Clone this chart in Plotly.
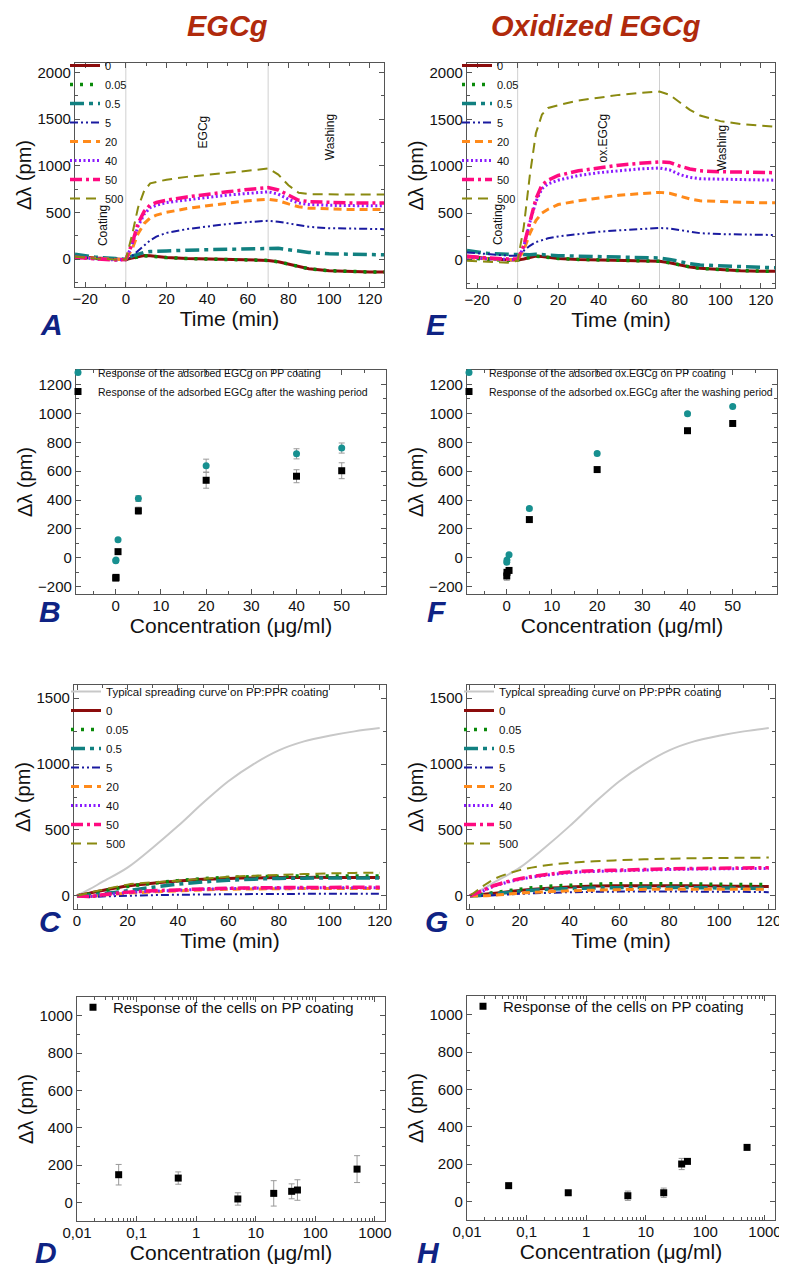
import plotly.graph_objects as go

W, H = 787, 1269
FONT = "Liberation Sans, Arial, sans-serif"

# ---------------- data ----------------
conc_labels = ["0", "0.05", "0.5", "5", "20", "40", "50", "500"]

# Panel A / E : adsorption time courses (min)
t_ads = [-25, -15, -5, 0, 3, 6, 9, 12, 15, 20, 30, 40, 50, 60, 70, 75, 80, 85, 90, 100, 110, 120, 127]

egcg_0    = [30, 10, 0, -5, 10, 25, 38, 35, 25, 15, 5, 0, -5, -10, -15, -30, -55, -85, -105, -125, -135, -140, -140]
egcg_005  = [20, 5, -5, -5, 10, 25, 35, 30, 22, 15, 5, 0, -5, -10, -15, -30, -55, -85, -105, -125, -135, -140, -140]
egcg_05   = [50, 20, 5, -5, 30, 50, 70, 80, 85, 85, 95, 100, 105, 115, 120, 115, 100, 85, 70, 55, 50, 45, 45]
egcg_5    = [20, 5, 0, -5, 30, 90, 150, 200, 240, 280, 320, 350, 375, 395, 410, 400, 380, 360, 345, 330, 325, 320, 320]
egcg_20   = [20, 5, -5, -5, 100, 270, 380, 440, 470, 500, 540, 570, 600, 625, 640, 625, 590, 560, 545, 535, 530, 530, 530]
egcg_40   = [15, 0, -10, -5, 150, 350, 480, 550, 575, 605, 635, 660, 685, 705, 720, 695, 640, 600, 585, 575, 570, 570, 570]
egcg_50   = [20, 0, -10, -5, 160, 380, 510, 580, 605, 630, 665, 695, 720, 745, 765, 740, 680, 630, 615, 605, 600, 600, 600]
egcg_500  = [25, 5, -5, -5, 250, 550, 730, 810, 825, 850, 880, 900, 925, 945, 970, 905, 790, 710, 695, 690, 690, 690, 690]

ox_0    = [40, 15, 0, 0, 10, 25, 40, 35, 25, 15, 5, 0, -5, -10, -15, -30, -55, -75, -90, -105, -115, -120, -120]
ox_005  = [20, 5, -5, 0, 10, 25, 38, 33, 25, 15, 5, 0, -5, -10, -15, -30, -55, -75, -90, -105, -115, -120, -120]
ox_05   = [100, 70, 60, 55, 55, 55, 60, 55, 50, 45, 40, 35, 30, 25, 20, 5, -20, -40, -55, -65, -75, -80, -85]
ox_5    = [80, 60, 45, 45, 100, 150, 190, 210, 230, 250, 275, 300, 315, 330, 340, 335, 320, 300, 285, 275, 270, 265, 265]
ox_20   = [20, 10, 0, 0, 100, 280, 420, 500, 540, 590, 630, 660, 690, 705, 720, 710, 680, 650, 630, 620, 615, 610, 610]
ox_40   = [30, 10, 5, 5, 140, 400, 620, 760, 810, 850, 900, 930, 950, 970, 980, 960, 910, 880, 865, 860, 855, 850, 850]
ox_50   = [40, 20, 10, 10, 150, 420, 650, 800, 850, 900, 950, 980, 1010, 1030, 1045, 1040, 1000, 970, 950, 940, 935, 930, 930]
ox_500  = [-10, -20, -30, -10, 350, 900, 1350, 1550, 1620, 1650, 1700, 1730, 1760, 1780, 1795, 1760, 1680, 1600, 1540, 1480, 1450, 1430, 1420]

# Panel B / F : adsorbed amount vs concentration
conc_ads = [0, 0.05, 0.5, 5, 20, 40, 50]
egcg_pp      = [-20, -15, 125, 410, 638, 720, 760]
egcg_pp_err  = [10, 10, 10, 20, 45, 35, 35]
egcg_wash    = [-140, -135, 43, 326, 537, 565, 603]
egcg_wash_err = [10, 10, 10, 25, 55, 45, 55]
ox_pp        = [-30, -15, 21, 341, 723, 997, 1048]
ox_pp_err    = [8, 8, 8, 10, 10, 10, 8]
ox_wash      = [-125, -100, -87, 265, 611, 880, 930]
ox_wash_err  = [30, 10, 10, 10, 12, 12, 10]

# Panel C / G : cell spreading (min)
t_cell = [0, 5, 10, 20, 30, 40, 50, 60, 70, 80, 90, 100, 110, 120]
typical = [0, 50, 105, 214, 365, 529, 706, 870, 1000, 1104, 1172, 1215, 1248, 1273]

cell_egcg_0   = [0, 20, 40, 75, 95, 112, 125, 132, 136, 139, 140, 140, 140, 140]
cell_egcg_005 = [0, 15, 35, 70, 95, 115, 130, 140, 145, 148, 150, 150, 150, 150]
cell_egcg_05  = [0, 5, 15, 38, 65, 88, 105, 118, 126, 132, 134, 135, 135, 135]
cell_egcg_5   = [0, -10, -5, 0, 5, 8, 10, 12, 13, 14, 15, 15, 15, 15]
cell_egcg_20  = [0, -5, 5, 20, 30, 38, 45, 50, 52, 54, 55, 55, 55, 55]
cell_egcg_40  = [0, -5, 5, 25, 35, 42, 50, 55, 58, 60, 60, 62, 62, 62]
cell_egcg_50  = [0, -5, 8, 28, 38, 45, 52, 57, 60, 62, 63, 64, 65, 65]
cell_egcg_500 = [0, 25, 45, 85, 102, 115, 130, 144, 152, 159, 165, 170, 174, 176]

cell_ox_0   = [0, 10, 20, 40, 55, 67, 74, 76, 77, 77, 76, 74, 72, 70]
cell_ox_005 = [0, 12, 25, 50, 70, 80, 88, 92, 92, 92, 90, 88, 86, 85]
cell_ox_05  = [0, 5, 15, 35, 48, 55, 60, 62, 63, 63, 62, 60, 58, 55]
cell_ox_5   = [0, 0, 5, 15, 22, 27, 30, 32, 33, 33, 32, 31, 30, 28]
cell_ox_20  = [0, 0, 5, 20, 30, 38, 43, 47, 49, 50, 50, 50, 50, 50]
cell_ox_40  = [0, 35, 75, 125, 155, 175, 185, 190, 195, 200, 203, 205, 207, 208]
cell_ox_50  = [0, 40, 80, 130, 160, 180, 190, 195, 200, 205, 208, 210, 212, 214]
cell_ox_500 = [0, 70, 130, 195, 230, 250, 262, 270, 277, 282, 285, 287, 289, 290]

# Panel D / H : cell response vs concentration (log)
conc_cell = [0.05, 0.5, 5, 20, 40, 50, 500]
cell_resp_egcg = [148, 130, 18, 48, 59, 66, 178]
cell_err_egcg  = [55, 33, 33, 68, 40, 55, 72]
cell_resp_ox   = [84, 46, 30, 46, 200, 214, 289]
cell_err_ox    = [8, 8, 25, 25, 30, 12, 8]

log_tick_vals = [0.01, 0.1, 1, 10, 100, 1000]
log_tick_text = ["0,01", "0,1", "1", "10", "100", "1000"]

# ---------------- styles ----------------
STY = {
    "0":    dict(color="#8b0c0c", dash="solid", width=3),
    "0.05": dict(color="#0a8a0a", dash="3px,7px", width=3.5),
    "0.5":  dict(color="#118080", dash="14px,5px,4px,5px", width=3.5),
    "5":    dict(color="#1a1aa0", dash="8px,3px,2px,3px,2px,3px", width=2),
    "20":   dict(color="#ff8a1a", dash="8px,5px", width=3),
    "40":   dict(color="#8a1aff", dash="2px,2.5px", width=3),
    "50":   dict(color="#ff0a80", dash="12px,4px,3px,4px", width=3.5),
    "500":  dict(color="#8a8a10", dash="10px,6px", width=2),
}


def dx(l, r):
    return [l / W, r / W]


def dy(t, b):
    return [1 - b / H, 1 - t / H]


fig = go.Figure()

ads_egcg = [egcg_0, egcg_005, egcg_05, egcg_5, egcg_20, egcg_40, egcg_50, egcg_500]
ads_ox = [ox_0, ox_005, ox_05, ox_5, ox_20, ox_40, ox_50, ox_500]
cell_egcg = [cell_egcg_0, cell_egcg_005, cell_egcg_05, cell_egcg_5, cell_egcg_20, cell_egcg_40, cell_egcg_50, cell_egcg_500]
cell_ox = [cell_ox_0, cell_ox_005, cell_ox_05, cell_ox_5, cell_ox_20, cell_ox_40, cell_ox_50, cell_ox_500]

# A & E
for series, ax, leg in [(ads_egcg, "", "legend"), (ads_ox, "2", "legend2")]:
    for lab, ys in zip(conc_labels, series):
        fig.add_trace(go.Scatter(x=t_ads, y=ys, mode="lines", name=lab, line=STY[lab],
                                 xaxis="x" + ax, yaxis="y" + ax, legend=leg))

# B & F
for (pp, ppe, wa, wae, name), ax, leg in [
        ((egcg_pp, egcg_pp_err, egcg_wash, egcg_wash_err, "EGCg"), "3", "legend3"),
        ((ox_pp, ox_pp_err, ox_wash, ox_wash_err, "ox.EGCg"), "4", "legend4")]:
    fig.add_trace(go.Scatter(x=conc_ads, y=pp, mode="markers",
                             name="Response of the adsorbed %s on PP coating" % name,
                             marker=dict(symbol="circle", size=7, color="#179090"),
                             error_y=dict(type="data", array=ppe, color="#999999", thickness=1, width=3),
                             xaxis="x" + ax, yaxis="y" + ax, legend=leg))
    fig.add_trace(go.Scatter(x=conc_ads, y=wa, mode="markers",
                             name="Response of the adsorbed %s after the washing period" % name,
                             marker=dict(symbol="square", size=7, color="#000000"),
                             error_y=dict(type="data", array=wae, color="#999999", thickness=1, width=3),
                             xaxis="x" + ax, yaxis="y" + ax, legend=leg))

# C & G
for series, ax, leg in [(cell_egcg, "5", "legend5"), (cell_ox, "6", "legend6")]:
    fig.add_trace(go.Scatter(x=t_cell, y=typical, mode="lines", line_shape="spline",
                             name="Typical spreading curve on PP:PPR coating",
                             line=dict(color="#c8c8c8", width=2),
                             xaxis="x" + ax, yaxis="y" + ax, legend=leg))
    for lab, ys in zip(conc_labels, series):
        fig.add_trace(go.Scatter(x=t_cell, y=ys, mode="lines", line_shape="spline", name=lab, line=STY[lab],
                                 xaxis="x" + ax, yaxis="y" + ax, legend=leg))

# D & H
for ys, es, ax, leg in [(cell_resp_egcg, cell_err_egcg, "7", "legend7"), (cell_resp_ox, cell_err_ox, "8", "legend8")]:
    fig.add_trace(go.Scatter(x=conc_cell, y=ys, mode="markers",
                             name="Response of the cells on PP coating",
                             marker=dict(symbol="square", size=7, color="#000000"),
                             error_y=dict(type="data", array=es, color="#999999", thickness=1, width=3),
                             xaxis="x" + ax, yaxis="y" + ax, legend=leg))

# ---------------- axes ----------------
boxes = {
    "":  (67, 376, 55, 279),
    "2": (459, 767, 55, 280),
    "3": (68, 378, 362, 586),
    "4": (459, 769, 362, 586),
    "5": (66, 378, 677, 901),
    "6": (459, 767, 677, 901),
    "7": (69, 377, 989, 1213),
    "8": (459, 767, 988, 1212),
}

common = dict(showline=True, linecolor="#555555", linewidth=1.2, mirror="allticks",
              ticks="inside", ticklen=5, tickcolor="#555555", showgrid=False, zeroline=False,
              tickfont=dict(family=FONT, size=15, color="#111111"), automargin=False)

ytitle = dict(text="\u0394\u03bb (pm)", font=dict(family=FONT, size=20, color="#111111"), standoff=0)
MINC = "#555555"


def xtitle(text):
    return dict(text=text, font=dict(family=FONT, size=21, color="#111111"), standoff=0)


for key, (l, r, t, b) in boxes.items():
    xa = dict(common, domain=dx(l, r), anchor="y" + key, ticklabelstandoff=-2)
    ya = dict(common, domain=dy(t, b), anchor="x" + key, title=ytitle)
    if key in ("", "2"):
        xa.update(range=[-25, 127], dtick=20, tick0=0, minor=dict(dtick=10, ticks="inside", ticklen=3, tickcolor=MINC),
                  title=xtitle("Time (min)"))
        ya.update(range=[-300, 2100], dtick=500, tick0=0, minor=dict(dtick=250, ticks="inside", ticklen=3, tickcolor=MINC))
    elif key in ("3", "4"):
        xa.update(range=[-8.8, 59.8], dtick=10, tick0=0, minor=dict(dtick=5, ticks="inside", ticklen=3, tickcolor=MINC),
                  title=xtitle("Concentration (\u03bcg/ml)"))
        ya.update(range=[-250, 1300], dtick=200, tick0=0, minor=dict(dtick=100, ticks="inside", ticklen=3, tickcolor=MINC))
    elif key in ("5", "6"):
        xa.update(range=[-1.2, 122.5], dtick=20, tick0=0, minor=dict(dtick=10, ticks="inside", ticklen=3, tickcolor=MINC),
                  title=xtitle("Time (min)"))
        ya.update(range=[-100, 1600], dtick=500, tick0=0, minor=dict(dtick=250, ticks="inside", ticklen=3, tickcolor=MINC))
    else:
        minor_vals = [k * 10 ** e for e in range(-2, 3) for k in range(2, 10)]
        xa.update(type="log", range=[-2, 3.168], tickvals=log_tick_vals, ticktext=log_tick_text,
                  minor=dict(tickvals=minor_vals, ticks="inside", ticklen=3, tickcolor=MINC),
                  title=xtitle("Concentration (\u03bcg/ml)"))
        ya.update(range=[-100, 1100], dtick=200, tick0=0, minor=dict(dtick=100, ticks="inside", ticklen=3, tickcolor=MINC))
    fig.update_layout(**{"xaxis" + key: xa, "yaxis" + key: ya})


# ---------------- legends ----------------
def leg(x, y, size):
    return dict(x=x / W, y=1 - y / H, xanchor="left", yanchor="top", xref="paper", yref="paper",
                bgcolor="rgba(0,0,0,0)", borderwidth=0, itemwidth=30, tracegroupgap=0,
                font=dict(family=FONT, size=size, color="#111111"))


fig.update_layout(
    legend=leg(57, 43, 11),
    legend2=leg(449, 43, 11),
    legend3=leg(50, 350, 10.5),
    legend4=leg(441, 350, 10.5),
    legend5=leg(58, 669, 11.5),
    legend6=leg(451, 669, 11.5),
    legend7=leg(65, 983, 15),
    legend8=leg(455, 982, 15),
)

# ---------------- shapes & annotations ----------------
shapes = []
for ax in ("", "2"):
    for xv in (0, 70):
        shapes.append(dict(type="line", xref="x" + ax, yref=("y" + ax) + " domain", x0=xv, x1=xv, y0=0, y1=1,
                           line=dict(color="#d0d0d0", width=1), layer="below"))

ann = []
phase_font = dict(family=FONT, size=12, color="#111111")
for text, x, y, ax in [("Coating", -11.5, 357, ""), ("EGCg", 38, 1357, ""), ("Washing", 100.8, 1303, ""),
                       ("Coating", -10, 375, "2"), ("ox.EGCg", 42, 1304, "2"), ("Washing", 100.5, 1196, "2")]:
    ann.append(dict(text=text, x=x, y=y, xref="x" + ax, yref="y" + ax, showarrow=False, textangle=-90,
                    font=phase_font))

title_font = dict(family=FONT, size=29, color="#b02a0c")
ann.append(dict(text="<b><i>EGCg</i></b>", x=219 / W, y=1 - 18 / H, xref="paper", yref="paper",
                showarrow=False, font=title_font, xanchor="center", yanchor="middle"))
ann.append(dict(text="<b><i>Oxidized EGCg</i></b>", x=588 / W, y=1 - 18 / H, xref="paper", yref="paper",
                showarrow=False, font=title_font, xanchor="center", yanchor="middle"))

letter_font = dict(family=FONT, size=30, color="#0f2384")
for letter, x, y in [("A", 43, 316), ("E", 428, 316), ("B", 42, 603), ("F", 428, 603),
                     ("C", 42, 913), ("G", 428, 913), ("D", 38, 1244), ("H", 420, 1244)]:
    ann.append(dict(text="<b><i>%s</i></b>" % letter, x=x / W, y=1 - y / H, xref="paper", yref="paper",
                    showarrow=False, font=letter_font, xanchor="center", yanchor="middle"))

fig.update_layout(shapes=shapes, annotations=ann, width=W, height=H,
                  margin=dict(l=0, r=0, t=0, b=0), paper_bgcolor="white", plot_bgcolor="white",
                  showlegend=True)

fig.write_html("out.html")
